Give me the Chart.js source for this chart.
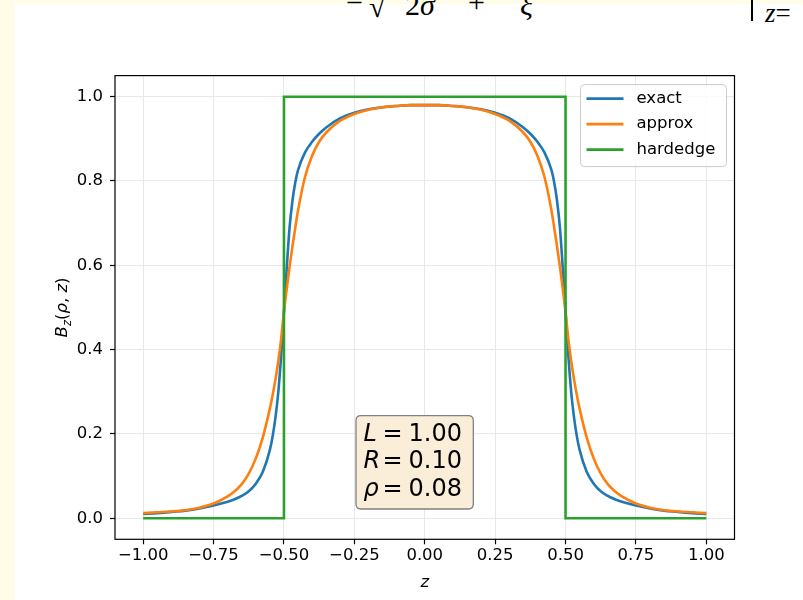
<!DOCTYPE html>
<html>
<head>
<meta charset="utf-8">
<script src="https://cdn.jsdelivr.net/npm/chart.js@4.4.0/dist/chart.umd.min.js"></script>
<style>
    body { margin: 0; background: #fffde7; width: 803px; height: 600px; overflow: hidden; position: relative; }
    #page { position: absolute; left: 15px; top: 4px; width: 788px; height: 596px; background: #fff; }
    .tex { position: absolute; top: -10px; font: 30px/30px "Liberation Serif", serif; color: #000; white-space: nowrap; }
    #zbar { position: absolute; left: 751px; top: 0; width: 2px; height: 21px; background: #000; }
    #zeq { position: absolute; left: 765px; top: 0; font: 27px/27px "Liberation Serif", serif; color: #000; white-space: nowrap; }
    #fieldChart { position: absolute; left: 0; top: 0; }
</style>
</head>
<body>
<div id="page"></div>
<div class="tex" style="left:346px; top:-15px">=</div>
<div class="tex" style="left:369px; top:-8px">√</div>
<div class="tex" style="left:405px">2<i>σ</i></div>
<div class="tex" style="left:468px; top:-13px">+</div>
<div class="tex" style="left:520px"><i>ξ</i></div>
<div id="zbar"></div>
<div id="zeq"><i>z</i>=</div>
<canvas id="fieldChart" width="803" height="600"></canvas>
<script>
// values
var zValues = [-1.0, -0.95, -0.9, -0.85, -0.8, -0.75, -0.7, -0.675, -0.65, -0.625, -0.6, -0.575, -0.55,
    -0.54, -0.53, -0.52, -0.51, -0.5, -0.49, -0.48, -0.47, -0.46, -0.45, -0.425, -0.4, -0.375, -0.35,
    -0.3, -0.25, -0.2, -0.15, -0.1, -0.05, 0.0,
    0.05, 0.1, 0.15, 0.2, 0.25, 0.3,
    0.35, 0.375, 0.4, 0.425, 0.45, 0.46, 0.47, 0.48, 0.49, 0.5, 0.51, 0.52, 0.53, 0.54,
    0.55, 0.575, 0.6, 0.625, 0.65, 0.675, 0.7, 0.75, 0.8, 0.85, 0.9, 0.95, 1.0];
var exactValues = [0.010, 0.012, 0.015, 0.018, 0.023, 0.030, 0.039, 0.045, 0.053, 0.064, 0.082, 0.110, 0.162,
    0.195, 0.240, 0.300, 0.385, 0.490, 0.595, 0.690, 0.752, 0.796, 0.826, 0.868, 0.893, 0.912, 0.927,
    0.949, 0.962, 0.970, 0.975, 0.978, 0.980, 0.980,
    0.980, 0.978, 0.975, 0.970, 0.962, 0.949,
    0.927, 0.912, 0.893, 0.868, 0.826, 0.796, 0.752, 0.690, 0.595, 0.490, 0.385, 0.300, 0.240, 0.195,
    0.162, 0.110, 0.082, 0.064, 0.053, 0.045, 0.039, 0.030, 0.023, 0.018, 0.015, 0.012, 0.010];
var approxValues = [0.012, 0.014, 0.016, 0.019, 0.025, 0.035, 0.052, 0.064, 0.081, 0.106, 0.142, 0.192, 0.260,
    0.293, 0.330, 0.373, 0.425, 0.490, 0.545, 0.597, 0.644, 0.688, 0.730, 0.810, 0.860, 0.893, 0.915,
    0.943, 0.959, 0.969, 0.975, 0.978, 0.980, 0.980,
    0.980, 0.978, 0.975, 0.969, 0.959, 0.943,
    0.915, 0.893, 0.860, 0.810, 0.730, 0.688, 0.644, 0.597, 0.545, 0.490, 0.425, 0.373, 0.330, 0.293,
    0.260, 0.192, 0.142, 0.106, 0.081, 0.064, 0.052, 0.035, 0.025, 0.019, 0.016, 0.014, 0.012];
var hardZ = [-1.0, -0.5, -0.5, 0.5, 0.5, 1.0];
var hardValues = [0, 0, 1, 1, 0, 0];
var xTickValues = [-1.0, -0.75, -0.5, -0.25, 0.0, 0.25, 0.5, 0.75, 1.0];
var yTickValues = [0.0, 0.2, 0.4, 0.6, 0.8, 1.0];
var seriesNames = ['exact', 'approx', 'hardedge'];
var seriesColors = ['#1f77b4', '#ff7f0e', '#2ca02c'];
var paramNames = ['L', 'R', 'ρ'];
var paramValues = ['1.00', '0.10', '0.08'];

var FONT = '"DejaVu Sans", sans-serif';

function toPoints(xs, ys) {
    return xs.map(function(x, i) { return { x: x, y: ys[i] }; });
}

function fmt(v, digits) {
    return Number(v).toFixed(digits).replace('-', '\u2212');
}

function roundRect(ctx, x, y, w, h, r) {
    ctx.beginPath();
    ctx.moveTo(x + r, y);
    ctx.lineTo(x + w - r, y);
    ctx.quadraticCurveTo(x + w, y, x + w, y + r);
    ctx.lineTo(x + w, y + h - r);
    ctx.quadraticCurveTo(x + w, y + h, x + w - r, y + h);
    ctx.lineTo(x + r, y + h);
    ctx.quadraticCurveTo(x, y + h, x, y + h - r);
    ctx.lineTo(x, y + r);
    ctx.quadraticCurveTo(x, y, x + r, y);
    ctx.closePath();
}

// frame, legend, parameter box and axis titles
var notesPlugin = {
    id: 'notes',
    afterDatasetsDraw: function(chart) {
        var ctx = chart.ctx;
        var a = chart.chartArea;
        ctx.save();

        // axes frame
        ctx.strokeStyle = '#000';
        ctx.lineWidth = 1.2;
        ctx.strokeRect(a.left, a.top, a.right - a.left, a.bottom - a.top);

        // legend
        var lx = a.right - 154, ly = a.top + 9;
        roundRect(ctx, lx, ly, 146, 82, 4);
        ctx.fillStyle = 'rgba(255,255,255,0.8)';
        ctx.fill();
        ctx.strokeStyle = '#cccccc';
        ctx.lineWidth = 1;
        ctx.stroke();
        ctx.font = '16.5px ' + FONT;
        ctx.textBaseline = 'middle';
        ctx.textAlign = 'left';
        seriesNames.forEach(function(name, i) {
            var y = ly + 14 + i * 25.5;
            ctx.strokeStyle = seriesColors[i];
            ctx.lineWidth = 2.6;
            ctx.beginPath();
            ctx.moveTo(lx + 6, y);
            ctx.lineTo(lx + 43, y);
            ctx.stroke();
            ctx.fillStyle = '#000';
            ctx.fillText(name, lx + 56, y);
        });

        // parameter box
        var bx = 356, by = 415.7;
        roundRect(ctx, bx, by, 117.3, 93.3, 5);
        ctx.fillStyle = '#faeed9';
        ctx.fill();
        ctx.strokeStyle = '#808080';
        ctx.lineWidth = 1.3;
        ctx.stroke();
        ctx.fillStyle = '#000';
        ctx.textBaseline = 'alphabetic';
        paramNames.forEach(function(p, i) {
            var base = 440.7 + i * 27.7;
            ctx.font = 'italic 24px ' + FONT;
            ctx.fillText(p, bx + 7.5, base);
            ctx.font = '24px ' + FONT;
            ctx.fillText('=', bx + 26.5, base);
            ctx.fillText(paramValues[i], bx + 52.5, base);
        });
        ctx.restore();
    },
    afterDraw: function(chart) {
        var ctx = chart.ctx;
        var a = chart.chartArea;
        ctx.save();
        ctx.fillStyle = '#000';

        // x title
        ctx.font = 'italic 16.5px ' + FONT;
        ctx.textAlign = 'center';
        ctx.textBaseline = 'alphabetic';
        ctx.fillText('z', (a.left + a.right) / 2, 587);

        // y title: B_z(rho, z)
        var parts = [
            { t: 'B', f: 'italic 16.5px ' + FONT, dy: 0 },
            { t: 'z', f: 'italic 11.5px ' + FONT, dy: 3.5 },
            { t: '(', f: '16.5px ' + FONT, dy: 0 },
            { t: 'ρ', f: 'italic 16.5px ' + FONT, dy: 0 },
            { t: ', ', f: '16.5px ' + FONT, dy: 0 },
            { t: 'z', f: 'italic 16.5px ' + FONT, dy: 0 },
            { t: ')', f: '16.5px ' + FONT, dy: 0 }
        ];
        var total = 0;
        parts.forEach(function(p) { ctx.font = p.f; p.w = ctx.measureText(p.t).width; total += p.w; });
        ctx.translate(61, (a.top + a.bottom) / 2);
        ctx.rotate(-Math.PI / 2);
        ctx.textAlign = 'left';
        var x = -total / 2;
        parts.forEach(function(p) {
            ctx.font = p.f;
            ctx.fillText(p.t, x, 6 + p.dy);
            x += p.w;
        });
        ctx.restore();
    }
};

var ctx = document.getElementById('fieldChart').getContext('2d');
var fieldChart = new Chart(ctx, {
    type: 'line',
    data: {
        datasets: [{
            label: seriesNames[0],
            data: toPoints(zValues, exactValues),
            borderColor: seriesColors[0],
            borderWidth: 2.6,
            cubicInterpolationMode: 'monotone',
            pointRadius: 0,
            order: 3
        }, {
            label: seriesNames[1],
            data: toPoints(zValues, approxValues),
            borderColor: seriesColors[1],
            borderWidth: 2.6,
            cubicInterpolationMode: 'monotone',
            pointRadius: 0,
            order: 2
        }, {
            label: seriesNames[2],
            data: toPoints(hardZ, hardValues),
            borderColor: seriesColors[2],
            borderWidth: 2.6,
            tension: 0,
            pointRadius: 0,
            order: 1
        }]
    },
    options: {
        responsive: false,
        animation: false,
        devicePixelRatio: 1,
        layout: { padding: { left: 0, right: 68.5, top: 75.6, bottom: 0 } },
        plugins: {
            legend: { display: false },
            tooltip: { enabled: false }
        },
        scales: {
            x: {
                type: 'linear',
                min: -1.1,
                max: 1.1,
                afterBuildTicks: function(scale) {
                    scale.ticks = xTickValues.map(function(v) { return { value: v }; });
                },
                afterFit: function(scale) { scale.height = 60.7; },
                grid: { color: '#e8e8e8', lineWidth: 1, tickColor: '#000', tickLength: 5, tickWidth: 1.2 },
                border: { display: false },
                ticks: {
                    font: { family: FONT, size: 16.5 },
                    color: '#000',
                    padding: 2,
                    maxRotation: 0,
                    autoSkip: false,
                    callback: function(v) { return fmt(v, 2); }
                }
            },
            y: {
                type: 'linear',
                min: -0.05,
                max: 1.05,
                afterBuildTicks: function(scale) {
                    scale.ticks = yTickValues.map(function(v) { return { value: v }; });
                },
                afterFit: function(scale) { scale.width = 115; },
                grid: { color: '#e8e8e8', lineWidth: 1, tickColor: '#000', tickLength: 5, tickWidth: 1.2 },
                border: { display: false },
                ticks: {
                    font: { family: FONT, size: 16.5 },
                    color: '#000',
                    padding: 7,
                    autoSkip: false,
                    callback: function(v) { return fmt(v, 1); }
                }
            }
        }
    },
    plugins: [notesPlugin]
});
</script>
</body>
</html>
